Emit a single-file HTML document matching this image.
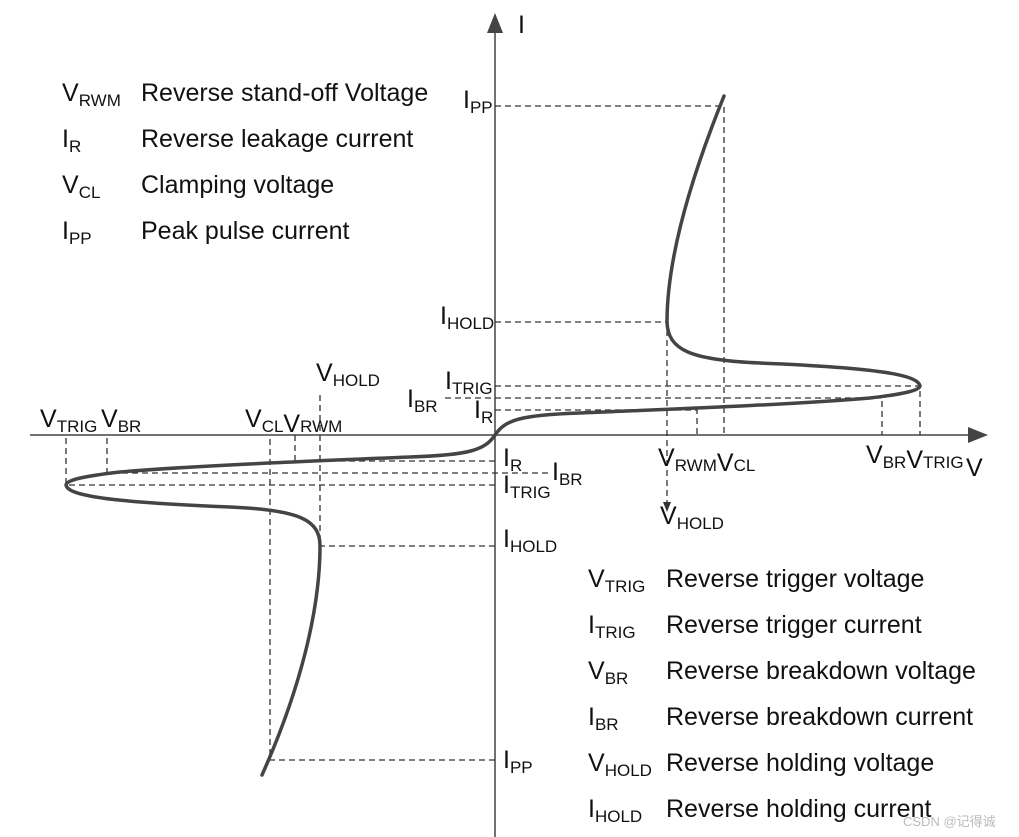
<!DOCTYPE html>
<html><head><meta charset="utf-8"><style>
html,body{margin:0;padding:0;background:#fff;}
svg{display:block;}
text{font-family:"Liberation Sans",Arial,sans-serif;fill:#111;font-size:25px;}
tspan.s{font-size:17px;}
</style></head><body>
<svg width="1019" height="837" viewBox="0 0 1019 837" xmlns="http://www.w3.org/2000/svg">
<g stroke="#444" stroke-width="1.5">
<line x1="30" y1="435" x2="975" y2="435"/>
<line x1="495" y1="837" x2="495" y2="30"/>
</g>
<polygon points="988,435 968,427 968,443" fill="#444"/>
<polygon points="495,13 487,33 503,33" fill="#444"/>
<text x="518" y="33" font-size="28">I</text>
<text x="966" y="476" font-size="28">V</text>

<g stroke="#333" stroke-width="1.3" stroke-dasharray="6,4" fill="none">
<path d="M495 106 H724 V435"/>
<path d="M495 322 H667 V505"/>
<path d="M495 386 H920 V435"/>
<path d="M445 398 H882 V435"/>
<path d="M495 410 H697 V435"/>
<path d="M495 461 H295 V435"/>
<path d="M548 473 H107 V435"/>
<path d="M495 485 H66 V435"/>
<path d="M495 546 H320 V392"/>
<path d="M495 760 H270 V435"/>
</g>
<polygon points="667,512 663,502 671,502" fill="#333"/>

<g stroke="#444" stroke-width="3.5" fill="none" stroke-linecap="round">
<path d="M495 435 C505 420 520 415 580 413 C700 408 800 404 870 398 C905 394 920 390 920 386 C918 375 880 368 760 363 C690 360 668 350 667 322 C667 260 690 180 724 96"/>
<path d="M495 435 C485 450 470 455 410 457 C290 462 190 466 120 472 C85 476 66 480 66 485 C68 496 110 502 230 507 C300 510 320 520 320 546 C320 610 300 690 262 775"/>
</g>

<text x="62" y="101">V<tspan class="s" dy="5">RWM</tspan></text><text x="141" y="101">Reverse stand-off Voltage</text>
<text x="62" y="147">I<tspan class="s" dy="5">R</tspan></text><text x="141" y="147">Reverse leakage current</text>
<text x="62" y="193">V<tspan class="s" dy="5">CL</tspan></text><text x="141" y="193">Clamping voltage</text>
<text x="62" y="239">I<tspan class="s" dy="5">PP</tspan></text><text x="141" y="239">Peak pulse current</text>

<text x="588" y="587">V<tspan class="s" dy="5">TRIG</tspan></text><text x="666" y="587">Reverse trigger voltage</text>
<text x="588" y="633">I<tspan class="s" dy="5">TRIG</tspan></text><text x="666" y="633">Reverse trigger current</text>
<text x="588" y="679">V<tspan class="s" dy="5">BR</tspan></text><text x="666" y="679">Reverse breakdown voltage</text>
<text x="588" y="725">I<tspan class="s" dy="5">BR</tspan></text><text x="666" y="725">Reverse breakdown current</text>
<text x="588" y="771">V<tspan class="s" dy="5">HOLD</tspan></text><text x="666" y="771">Reverse holding voltage</text>
<text x="588" y="817">I<tspan class="s" dy="5">HOLD</tspan></text><text x="666" y="817">Reverse holding current</text>
<text x="903" y="826" style="font-size:13px;fill:#bbb;font-family:'Liberation Sans','Noto Sans CJK SC',sans-serif">CSDN @记得诚</text>

<text x="463" y="108">I<tspan class="s" dy="5">PP</tspan></text>
<text x="440" y="324">I<tspan class="s" dy="5">HOLD</tspan></text>
<text x="445" y="389">I<tspan class="s" dy="5">TRIG</tspan></text>
<text x="407" y="407">I<tspan class="s" dy="5">BR</tspan></text>
<text x="474" y="418">I<tspan class="s" dy="5">R</tspan></text>
<text x="658" y="466">V<tspan class="s" dy="5">RWM</tspan>V<tspan class="s" dy="0">CL</tspan></text>
<text x="660" y="524">V<tspan class="s" dy="5">HOLD</tspan></text>
<text x="866" y="463">V<tspan class="s" dy="5">BR</tspan>V<tspan class="s" dy="0">TRIG</tspan></text>

<text x="40" y="427">V<tspan class="s" dy="5">TRIG</tspan></text>
<text x="101" y="427">V<tspan class="s" dy="5">BR</tspan></text>
<text x="245" y="427">V<tspan class="s" dy="5">CL</tspan>V<tspan class="s" dy="0">RWM</tspan></text>
<text x="316" y="381">V<tspan class="s" dy="5">HOLD</tspan></text>
<text x="503" y="466">I<tspan class="s" dy="5">R</tspan></text>
<text x="552" y="480">I<tspan class="s" dy="5">BR</tspan></text>
<text x="503" y="493">I<tspan class="s" dy="5">TRIG</tspan></text>
<text x="503" y="547">I<tspan class="s" dy="5">HOLD</tspan></text>
<text x="503" y="768">I<tspan class="s" dy="5">PP</tspan></text>
</svg>
</body></html>
